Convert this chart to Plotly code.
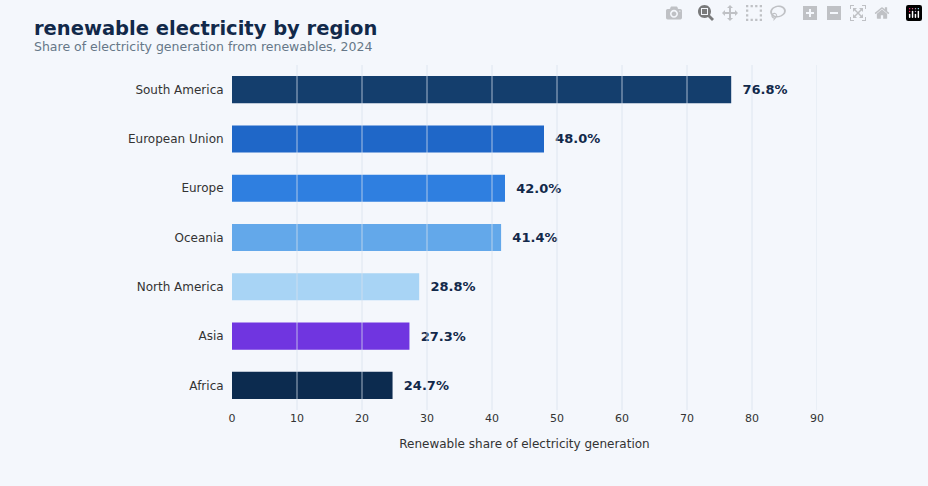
import plotly.graph_objects as go

regions = ["Africa", "Asia", "North America", "Oceania", "Europe", "European Union", "South America"]
shares = [24.7, 27.3, 28.8, 41.4, 42.0, 48.0, 76.8]
colors = ["#0c2b4f", "#7035e0", "#a8d4f5", "#63a8ea", "#2f7fe0", "#1f67c8", "#143e6d"]
ticks = list(range(10, 100, 10))

W, H = 928, 486
L, R, T, B = 232, 111, 65, 76

fig = go.Figure(go.Bar(
    x=shares, y=regions, orientation="h",
    marker=dict(color=colors, line=dict(width=0)),
    width=0.55,
    text=[f"  <b>{v:.1f}%</b>" for v in shares], textposition="outside",
    textfont=dict(size=13, color="#12294a", family="DejaVu Sans"),
    cliponaxis=False,
))

# grid lines drawn over the bars, as in the reference
for t in ticks:
    fig.add_shape(type="line", x0=t, x1=t, y0=0, y1=1, xref="x", yref="paper",
                  line=dict(color="rgba(215,224,236,0.75)", width=1), layer="above")


def px_x(p):
    return (p - L) / (W - L - R)


def px_y(p):
    return 1 + (T - p) / (H - T - B)


fig.update_layout(
    width=W, height=H,
    paper_bgcolor="#f4f7fc", plot_bgcolor="#f4f7fc",
    margin=dict(l=L, r=R, t=T, b=B),
    font=dict(family="DejaVu Sans", color="#333"),
    showlegend=False,
    annotations=[
        dict(text="<b>renewable electricity by region</b>", x=px_x(32), y=px_y(29), xref="paper", yref="paper",
             xanchor="left", yanchor="middle", showarrow=False, font=dict(size=19.5, color="#12294a")),
        dict(text="Share of electricity generation from renewables, 2024", x=px_x(32), y=px_y(46),
             xref="paper", yref="paper", showarrow=False,
             xanchor="left", yanchor="middle", font=dict(size=12.5, color="#667788")),
    ],
)

fig.update_xaxes(range=[0, 90], dtick=10, showgrid=False, zeroline=False,
                 tickfont=dict(size=11, color="#333"),
                 title=dict(text="Renewable share of electricity generation", font=dict(size=12, color="#333")))
fig.update_yaxes(showgrid=False, tickfont=dict(size=12, color="#333"), ticks="outside",
                 ticklen=5, tickcolor="#f4f7fc")

fig.write_html("out.html", post_script="document.body.style.margin='0';document.body.style.background='#f4f7fc';")
